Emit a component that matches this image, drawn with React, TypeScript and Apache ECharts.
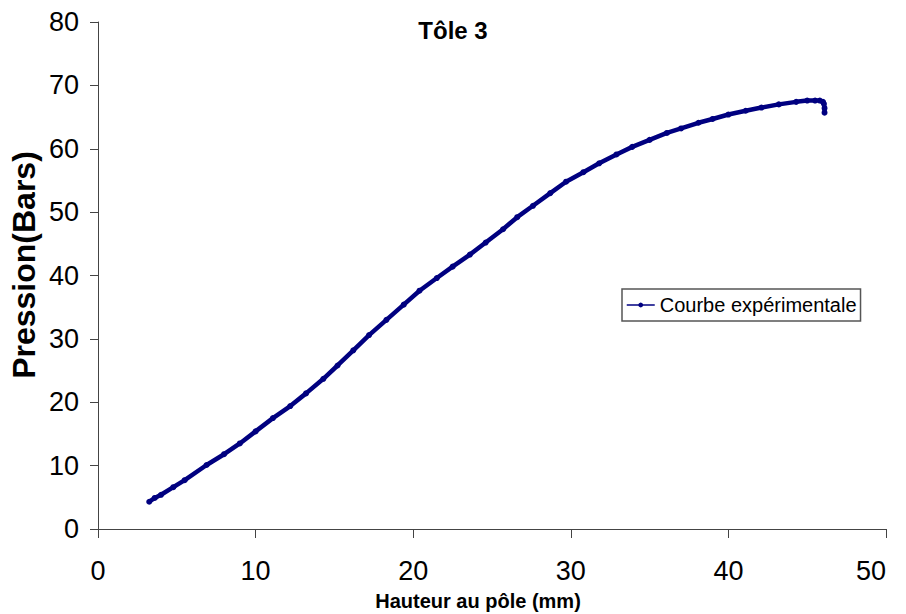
import React, { useEffect, useRef } from "react";
import * as echarts from "echarts";

const titleText = "Tôle 3";
const xName = "Hauteur au pôle (mm)";
const yName = "Pression(Bars)";
const seriesName = "Courbe expérimentale";

const hauteur = [
  3.25, 3.6, 4.0, 4.78, 5.5, 6.89, 8.0, 9.0, 10.0, 11.1, 12.2, 13.2, 14.3, 15.2, 16.2, 17.2,
  18.3, 19.4, 20.4, 21.5, 22.5, 23.6, 24.6, 25.7, 26.6, 27.6, 28.7, 29.7, 30.8, 31.8, 32.9,
  33.9, 35.0, 36.1, 37.0, 38.1, 39.0, 40.0, 41.1, 42.1, 43.2, 44.3, 45.0, 45.5, 45.8, 46.0,
  46.06, 46.1, 46.1,
];
const pression = [
  4.3, 4.9, 5.4, 6.6, 7.7, 10.1, 11.8, 13.5, 15.4, 17.5, 19.4, 21.4, 23.7, 25.8, 28.2, 30.6,
  33.0, 35.4, 37.6, 39.6, 41.4, 43.3, 45.2, 47.3, 49.2, 51.0, 53.0, 54.8, 56.3, 57.7, 59.1,
  60.3, 61.4, 62.5, 63.2, 64.1, 64.7, 65.4, 66.0, 66.5, 67.0, 67.4, 67.6, 67.6, 67.6, 67.4,
  67.1, 66.4, 65.7,
];

const FONT = "'Liberation Sans', Arial, sans-serif";

export default function App() {
  const ref = useRef<HTMLDivElement>(null);
  useEffect(() => {
    if (!ref.current) return;
    const chart = echarts.init(ref.current, undefined, { renderer: "svg" });
    const data = hauteur.map((x, i) => [x, pression[i]]);
    chart.setOption({
      animation: false,
      backgroundColor: "#ffffff",
      textStyle: { fontFamily: FONT },
      title: {
        text: titleText,
        left: "center",
        top: 18,
        padding: 0,
        textStyle: { fontFamily: FONT, fontSize: 24, fontWeight: "bold", color: "#000" },
      },
      legend: {
        left: 622,
        top: 289,
        orient: "vertical",
        padding: [5, 4],
        borderColor: "#555",
        borderWidth: 1.5,
        borderRadius: 0,
        itemWidth: 28,
        itemHeight: 6,
        itemGap: 0,
        textStyle: { fontFamily: FONT, fontSize: 20, color: "#000", lineHeight: 22 },
        lineStyle: { width: 1.5 },
        data: [seriesName],
      },
      grid: { left: 98, right: 20, top: 22, bottom: 85, containLabel: false },
      xAxis: {
        type: "value",
        min: 0,
        max: 50,
        interval: 10,
        axisLine: { show: true, onZero: false, lineStyle: { color: "#444", width: 1 } },
        axisTick: { show: true, inside: false, length: 9, lineStyle: { color: "#444" } },
        axisLabel: {
          fontFamily: FONT,
          fontSize: 27,
          color: "#000",
          margin: 28,
          alignMaxLabel: "right",
        },
        splitLine: { show: false },
      },
      yAxis: {
        type: "value",
        min: 0,
        max: 80,
        interval: 10,
        axisLine: { show: true, onZero: false, lineStyle: { color: "#444", width: 1 } },
        axisTick: { show: true, inside: false, length: 8, lineStyle: { color: "#444" } },
        axisLabel: { fontFamily: FONT, fontSize: 27, color: "#000", margin: 19 },
        splitLine: { show: false },
      },
      graphic: [
        {
          type: "text",
          x: 478,
          y: 601,
          style: {
            text: xName,
            fontFamily: FONT,
            fontSize: 20,
            fontWeight: "bold",
            fill: "#000",
            textAlign: "center",
            textVerticalAlign: "middle",
          },
        },
        {
          type: "text",
          x: 23.5,
          y: 265,
          rotation: Math.PI / 2,
          style: {
            text: yName,
            fontFamily: FONT,
            fontSize: 32,
            fontWeight: "bold",
            fill: "#000",
            textAlign: "center",
            textVerticalAlign: "middle",
          },
        },
      ],
      series: [
        {
          name: seriesName,
          type: "line",
          data,
          symbol: "circle",
          symbolSize: 6,
          showSymbol: true,
          itemStyle: { color: "#000080" },
          lineStyle: { color: "#000080", width: 4.5 },
        },
      ],
    });
    return () => chart.dispose();
  }, []);
  return (
    <div
      ref={ref}
      style={{ position: "fixed", left: 0, top: 0, width: 906, height: 614 }}
    />
  );
}
